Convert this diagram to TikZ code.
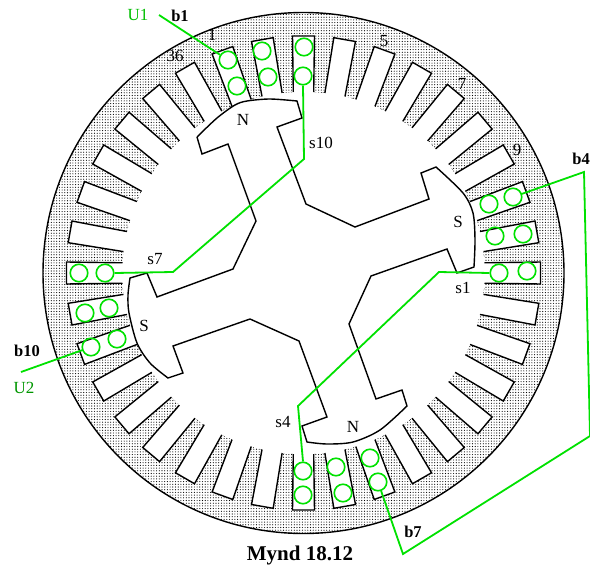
\documentclass[tikz,border=0pt]{standalone}
\usepackage{fontspec}
\setmainfont{Liberation Serif}
\usetikzlibrary{patterns.meta}
\definecolor{wire}{RGB}{0,225,0}
\definecolor{wireu}{RGB}{0,190,0}
\definecolor{wirev}{RGB}{0,150,0}
\newcommand{\lbl}{\fontsize{17}{17}\selectfont}
\newcommand{\blbl}{\fontsize{16.5}{16.5}\selectfont\bfseries}
\tikzset{
  x=1pt,y=-1pt,
  coil/.style={circle,draw=wire,line width=1.6pt,minimum size=17.5pt,inner sep=0pt},
  wireline/.style={draw=wire,line width=1.8pt,line join=miter},
  slotline/.style={draw=black,line width=1.4pt,line join=miter},
  rotorline/.style={draw=black,line width=1.4pt,line join=miter},
  txt/.style={inner sep=0pt,font=\lbl},
  btxt/.style={inner sep=0pt,font=\blbl},
  ring/.style={pattern={Dots[distance=2.7pt,radius=0.56pt]},pattern color=black}
}
\begin{document}
\begin{tikzpicture}
\useasboundingbox (0,0) rectangle (590,568);
\coordinate (O) at (303.5,273);
% stator ring
\fill[white] (O) circle[radius=260.5];
\fill[ring] (O) circle[radius=260.5];
\draw[black,line width=1.4pt] (O) circle[radius=260.5];
\fill[white] (O) circle[radius=181];
\draw[black,line width=0.4pt,dash pattern=on 0.8pt off 7pt] (O) circle[radius=181.5];
% slots
\foreach \a in {0,10,...,350}{
  \begin{scope}[shift={(O)},rotate=\a]
    \fill[white] (170,-10) -- (181,-10.2) -- (237,-11) -- (237,11) -- (181,10.2) -- (170,10) -- cycle;
    \draw[slotline] (181,-10.2) -- (237,-11) -- (237,11) -- (181,10.2);
  \end{scope}
}
% rotor
\draw[rotorline] (197,137) -- (202,154) -- (228,144) -- (256,221) -- (233,269) -- (157,297) -- (147,273) -- (130,278)
  -- plot[smooth] coordinates {(130,278) (128,295) (129,313) (137,343) (150,363) (168,378)}
  -- (183,373) -- (173,346) -- (250,319) -- (299,341) -- (327,417) -- (302,426) -- (307,442)
  -- plot[smooth] coordinates {(307,442) (327,444) (353,442) (380,430) (407,406)}
  -- (402,390) -- (376,399) -- (349,324) -- (371,276) -- (447,249) -- (457,273) -- (474,267)
  -- plot[smooth] coordinates {(474,267) (475,240) (473,213) (463,193) (436,167)}
  -- (421,173) -- (429,199) -- (355,227) -- (306,204) -- (277,127) -- (302,118) -- (297,101)
  -- plot[smooth] coordinates {(297,101) (270,99) (247,101) (235,105) (217,118) (197,137)};
% coils
\node[coil] (a1) at (499,273) {}; \node[coil] (a2) at (527,271) {};
\node[coil] (a3) at (495,236) {}; \node[coil] (a4) at (523,234) {};
\node[coil] (a5) at (489,204) {}; \node[coil] (a6) at (513,197) {};
\node[coil] (b1) at (304,47) {}; \node[coil] (b2) at (303,76) {};
\node[coil] (b3) at (262,51) {}; \node[coil] (b4) at (268,77) {};
\node[coil] (b5) at (228,60) {}; \node[coil] (b6) at (237,86) {};
\node[coil] (c1) at (79,273) {}; \node[coil] (c2) at (105,273) {};
\node[coil] (c3) at (85,313) {}; \node[coil] (c4) at (109,308) {};
\node[coil] (c5) at (91,347) {}; \node[coil] (c6) at (117,339) {};
\node[coil] (d1) at (303,471) {}; \node[coil] (d2) at (303,495) {};
\node[coil] (d3) at (336,467) {}; \node[coil] (d4) at (343,493) {};
\node[coil] (d5) at (370,458) {}; \node[coil] (d6) at (378,482) {};
% wire corners
\coordinate (u1) at (159,15);
\coordinate (u2) at (21,372);
\coordinate (k10) at (304,159);
\coordinate (k7) at (173,272);
\coordinate (k1) at (439,272);
\coordinate (k4) at (298,406);
\coordinate (k4b) at (584,172);
\coordinate (kr) at (590,436);
\coordinate (k7b) at (403,554);
% wires
\draw[wireline] (u1) -- (b5);
\draw[wireline] (b2.south) -- (k10) -- (k7) -- (c2.east);
\draw[wireline] (a1.west) -- (k1) -- (k4) -- (d1.north);
\draw[wireline] (a6) -- (k4b) -- (kr);
\draw[wireline] (kr) -- (k7b) -- (d6);
\draw[wireline] (u2) -- (c5);
% labels
\node[txt,text=wireu] (tu1) at (138,15) {U1};
\node[btxt] (tb1) at (180,16) {b1};
\node[txt] (n1) at (212,35) {1};
\node[txt] (n36) at (175,56) {36};
\node[txt] (n5) at (384,41) {5};
\node[txt] (n7) at (462,84) {7};
\node[txt] (n9) at (517,150) {9};
\node[btxt,anchor=east] (tb4) at (590,159) {b4};
\node[txt] (ts10) at (321,143) {s10};
\node[txt] (tn1) at (243,120) {N};
\node[txt] (ts1a) at (458,222) {S};
\node[txt] (ts1) at (463,288) {s1};
\node[txt] (ts7) at (155,259) {s7};
\node[txt] (ts2) at (144,326) {S};
\node[btxt] (tb10) at (27,351) {b10};
\node[txt,text=wirev] (tu2) at (24,388) {U2};
\node[txt] (ts4) at (283,422) {s4};
\node[txt] (tn2) at (353,427) {N};
\node[btxt] (tb7) at (413,532) {b7};
\node[inner sep=0pt,font=\fontsize{21}{21}\selectfont\bfseries] (cap) at (300,555) {Mynd 18.12};
\end{tikzpicture}
\end{document}
